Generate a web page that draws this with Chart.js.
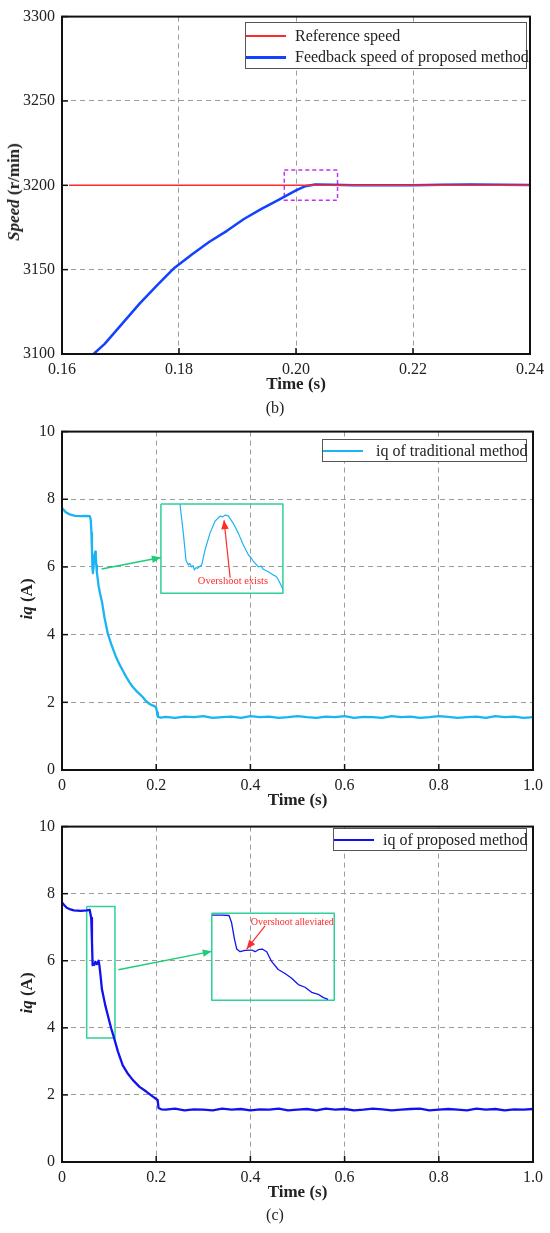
<!DOCTYPE html>
<html>
<head>
<meta charset="utf-8">
<script src="https://cdn.jsdelivr.net/npm/chart.js@4.4.1/dist/chart.umd.min.js"></script>
<style>
  body { margin: 0; background: #fff; width: 550px; height: 1233px; position: relative; overflow: hidden;
         font-family: 'Liberation Serif', 'Times New Roman', serif; color: #222; }
  canvas { position: absolute; left: 0; }
  .ytitle { position: absolute; transform: translate(-50%, -50%) rotate(-90deg); font-weight: bold;
            font-size: 17px; white-space: nowrap; line-height: 20px; }
  .legend { position: absolute; border: 1px solid #555; background: #fff; box-sizing: border-box; }
  .legend .swatch { position: absolute; left: 0; height: 2px; }
  .legend .label { position: absolute; font-size: 16px; line-height: 20px; white-space: nowrap; }
  .caption { position: absolute; left: 0; width: 550px; text-align: center; font-size: 16px; line-height: 19px; }
</style>
</head>
<body>
<canvas id="speedChart" width="550" height="400" style="top:0px"></canvas>
<canvas id="tradChart" width="550" height="401" style="top:415px"></canvas>
<canvas id="propChart" width="550" height="398" style="top:810px"></canvas>

<div class="ytitle" style="left:14px; top:192px"><i>Speed</i> (r/min)</div>
<div class="ytitle" style="left:27px; top:599px"><i>iq</i> (A)</div>
<div class="ytitle" style="left:27px; top:993px"><i>iq</i> (A)</div>
<div class="caption" style="top:398px">(b)</div>
<div class="caption" style="top:1205px">(c)</div>

<script>
// ---- tick values and labels ----
const speedXTicks = [0.16, 0.18, 0.20, 0.22, 0.24];
const speedXTickLabels = ['0.16', '0.18', '0.20', '0.22', '0.24'];
const speedYTicks = [3100, 3150, 3200, 3250, 3300];
const iqXTicks = [0, 0.2, 0.4, 0.6, 0.8, 1.0];
const iqXTickLabels = ['0', '0.2', '0.4', '0.6', '0.8', '1.0'];
const iqYTicks = [0, 2, 4, 6, 8, 10];

// ---- (b) speed ----
const refTime = [0.1612, 0.24];
const refSpeed = [3200, 3200];
const speedTime = [0.1654, 0.1673, 0.1703, 0.1733, 0.1762, 0.1792, 0.1822, 0.1852, 0.1882, 0.1911,
                   0.1941, 0.1971, 0.2000, 0.2015, 0.2033, 0.2060, 0.2100, 0.2150, 0.2200, 0.2250,
                   0.2300, 0.2350, 0.2400];
const speedValue = [3100, 3106, 3118, 3130, 3140.5, 3151, 3159, 3166.5, 3173, 3180,
                    3186, 3191.5, 3197, 3199.4, 3200.5, 3200.3, 3200.1, 3200, 3200.1, 3200.4,
                    3200.5, 3200.3, 3200.2];
const speedBoxX = [0.198, 0.2071, 0.2071, 0.198, 0.198];
const speedBoxY = [3209, 3209, 3191.2, 3191.2, 3209];

// ---- steady part shared time base ----
const steadyTime = [0.22, 0.24, 0.26, 0.28, 0.30, 0.32, 0.34, 0.36, 0.38, 0.40,
                    0.42, 0.44, 0.46, 0.48, 0.50, 0.52, 0.54, 0.56, 0.58, 0.60,
                    0.62, 0.64, 0.66, 0.68, 0.70, 0.72, 0.74, 0.76, 0.78, 0.80,
                    0.82, 0.84, 0.86, 0.88, 0.90, 0.92, 0.94, 0.96, 0.98, 1.00];

// ---- (traditional) iq ----
const tradStartTime = [0, 0.004, 0.008, 0.014, 0.02, 0.028, 0.04, 0.05, 0.059, 0.061,
                       0.0625, 0.0636, 0.0648, 0.0657, 0.067, 0.0685, 0.0705, 0.0718, 0.0728, 0.074,
                       0.0777, 0.081, 0.085, 0.0903, 0.0974, 0.1045, 0.115, 0.122, 0.129, 0.136,
                       0.1434, 0.15, 0.1575, 0.165, 0.1717, 0.178, 0.186, 0.192, 0.1965, 0.2,
                       0.202, 0.2035, 0.21];
const tradStartIq = [7.74, 7.68, 7.62, 7.57, 7.54, 7.51, 7.50, 7.51, 7.50, 7.40,
                     7.0, 6.5, 5.95, 5.82, 6.0, 6.3, 6.45, 6.3, 6.05, 5.85,
                     5.44, 5.2, 4.96, 4.5, 4.02, 3.72, 3.33, 3.12, 2.94, 2.76,
                     2.59, 2.46, 2.34, 2.24, 2.15, 2.04, 1.95, 1.91, 1.89, 1.83,
                     1.70, 1.57, 1.55];
const tradSteadyIq = [1.57, 1.54, 1.58, 1.56, 1.59, 1.54, 1.56, 1.58, 1.54, 1.59,
                      1.56, 1.58, 1.54, 1.56, 1.59, 1.56, 1.54, 1.58, 1.56, 1.59,
                      1.54, 1.57, 1.56, 1.54, 1.59, 1.56, 1.58, 1.54, 1.56, 1.59,
                      1.57, 1.54, 1.56, 1.58, 1.54, 1.59, 1.56, 1.58, 1.54, 1.56];
const tradInsetTime = [0.2505, 0.2576, 0.2633, 0.2682, 0.2715, 0.2753, 0.2785, 0.281, 0.2845, 0.288,
                       0.2925, 0.2966, 0.3036, 0.3142, 0.3248, 0.3355, 0.341, 0.346, 0.353, 0.3637,
                       0.3743, 0.385, 0.3956, 0.401, 0.406, 0.4168, 0.4225, 0.4274, 0.438, 0.4487,
                       0.455, 0.46, 0.469];
const tradInsetIq = [7.86, 7.0, 6.2, 6.06, 6.1, 6.0, 6.04, 5.91, 5.98, 5.96,
                     6.02, 6.06, 6.5, 7.0, 7.35, 7.5, 7.48, 7.53, 7.51, 7.29,
                     7.0, 6.65, 6.36, 6.28, 6.17, 6.0, 6.03, 5.93, 5.86, 5.76,
                     5.72, 5.6, 5.35];
const tradBoxX = [0.21, 0.469, 0.469, 0.21, 0.21];
const tradBoxY = [7.86, 7.86, 5.22, 5.22, 7.86];
const tradArrowX = [0.084, 0.21];
const tradArrowY = [5.94, 6.28];
const tradNoteArrowX = [0.357, 0.344];
const tradNoteArrowY = [5.68, 7.38];

// ---- (c) proposed iq ----
const propStartTime = [0, 0.004, 0.01, 0.018, 0.025, 0.04, 0.053, 0.0587, 0.062, 0.0636,
                       0.065, 0.0668, 0.0685, 0.0707, 0.074, 0.0777, 0.0795, 0.0813, 0.0848, 0.0919,
                       0.099, 0.1045, 0.111, 0.1186, 0.129, 0.14, 0.1505, 0.1646, 0.1788, 0.193,
                       0.2, 0.203, 0.205, 0.2106];
const propStartIq = [7.74, 7.67, 7.58, 7.53, 7.50, 7.49, 7.50, 7.52, 7.28, 6.6,
                     5.87, 5.92, 5.88, 5.97, 5.9, 6.0, 5.85, 5.63, 5.15, 4.67,
                     4.28, 3.98, 3.68, 3.30, 2.88, 2.63, 2.44, 2.24, 2.10, 1.95,
                     1.88, 1.85, 1.61, 1.57];
const propSteadyIq = [1.56, 1.59, 1.54, 1.57, 1.56, 1.54, 1.59, 1.56, 1.58, 1.54,
                      1.57, 1.56, 1.59, 1.54, 1.56, 1.58, 1.54, 1.59, 1.56, 1.58,
                      1.54, 1.56, 1.59, 1.57, 1.54, 1.56, 1.58, 1.59, 1.54, 1.56,
                      1.58, 1.56, 1.54, 1.59, 1.56, 1.58, 1.54, 1.57, 1.56, 1.58];
const propInsetTime = [0.319, 0.339, 0.3546, 0.360, 0.366, 0.371, 0.378, 0.3885, 0.403, 0.410,
                       0.417, 0.425, 0.4346, 0.445, 0.459, 0.4735, 0.4876, 0.5017, 0.516, 0.530,
                       0.544, 0.555, 0.565];
const propInsetIq = [7.36, 7.36, 7.35, 7.14, 6.66, 6.35, 6.27, 6.31, 6.32, 6.27,
                     6.33, 6.35, 6.27, 5.98, 5.74, 5.62, 5.48, 5.29, 5.21, 5.06,
                     5.0, 4.90, 4.85];
const propBoxX = [0.318, 0.578, 0.578, 0.318, 0.318];
const propBoxY = [7.42, 7.42, 4.82, 4.82, 7.42];
const propSelX = [0.0524, 0.1125, 0.1125, 0.0524, 0.0524];
const propSelY = [7.62, 7.62, 3.70, 3.70, 7.62];
const propArrowX = [0.1195, 0.318];
const propArrowY = [5.73, 6.28];
const propNoteArrowX = [0.431, 0.392];
const propNoteArrowY = [7.04, 6.35];

const FONT = "'Liberation Serif', 'Times New Roman', serif";
const GREEN_BOX = '#2fd09a';
const GREEN_ARROW = '#1fcc77';

function pts(xs, ys) {
    return xs.map((x, i) => ({ x: x, y: ys[i] }));
}

function line(label, xs, ys, color, width, extra) {
    return Object.assign({
        label: label,
        data: pts(xs, ys),
        borderColor: color,
        backgroundColor: color,
        borderWidth: width,
        pointRadius: 0,
        tension: 0,
        fill: false,
        borderJoinStyle: 'round'
    }, extra || {});
}

// frame, inward ticks, arrow heads and annotation text
const framePlugin = {
    id: 'frame',
    afterDatasetsDraw(chart, args, opts) {
        const ctx = chart.ctx;
        chart.data.datasets.forEach((ds, i) => {
            if (!ds.arrowHead) return;
            const pts = chart.getDatasetMeta(i).data;
            const a = pts[pts.length - 2], b = pts[pts.length - 1];
            const ang = Math.atan2(b.y - a.y, b.x - a.x);
            ctx.save();
            ctx.fillStyle = ds.borderColor;
            ctx.translate(b.x, b.y);
            ctx.rotate(ang);
            ctx.beginPath();
            ctx.moveTo(0, 0);
            ctx.lineTo(-9, -3.8);
            ctx.lineTo(-9, 3.8);
            ctx.closePath();
            ctx.fill();
            ctx.restore();
        });
        (opts.notes || []).forEach(n => {
            ctx.save();
            ctx.font = n.font;
            ctx.fillStyle = n.color;
            ctx.textAlign = 'center';
            ctx.textBaseline = 'middle';
            ctx.fillText(n.text, chart.scales.x.getPixelForValue(n.x), chart.scales.y.getPixelForValue(n.y));
            ctx.restore();
        });
    },
    afterDraw(chart) {
        const ctx = chart.ctx;
        const a = chart.chartArea;
        ctx.save();
        ctx.strokeStyle = '#111';
        ctx.lineWidth = 1.5;
        chart.scales.x.ticks.forEach(t => {
            const px = chart.scales.x.getPixelForValue(t.value);
            ctx.beginPath();
            ctx.moveTo(px, a.bottom);
            ctx.lineTo(px, a.bottom - 6);
            ctx.stroke();
        });
        chart.scales.y.ticks.forEach(t => {
            const py = chart.scales.y.getPixelForValue(t.value);
            ctx.beginPath();
            ctx.moveTo(a.left, py);
            ctx.lineTo(a.left + 6, py);
            ctx.stroke();
        });
        ctx.lineWidth = 2;
        ctx.strokeRect(a.left, a.top, a.right - a.left, a.bottom - a.top);
        ctx.restore();
    }
};

function makeChart(id, datasets, xTicks, xLabels, yTicks, topPad, notes) {
    const tickFont = { family: FONT, size: 16 };
    const gridOpts = { color: '#9c9c9c', lineWidth: 1, drawTicks: false };
    return new Chart(document.getElementById(id).getContext('2d'), {
        type: 'line',
        data: { datasets: datasets },
        options: {
            responsive: false,
            animation: false,
            layout: { padding: { top: topPad, right: 17, left: 0, bottom: 0 } },
            plugins: { legend: { display: false }, tooltip: { enabled: false }, frame: { notes: notes } },
            scales: {
                x: {
                    type: 'linear',
                    min: xTicks[0],
                    max: xTicks[xTicks.length - 1],
                    afterBuildTicks: ax => { ax.ticks = xTicks.map(v => ({ value: v })); },
                    afterFit: ax => { ax.height = 46; },
                    ticks: { callback: (v, i) => xLabels[i], padding: 6, font: tickFont, color: '#222',
                             maxRotation: 0, autoSkip: false },
                    grid: gridOpts,
                    border: { display: false, dash: [5, 4] },
                    title: { display: true, text: 'Time (s)', color: '#222',
                             font: { family: FONT, size: 17, weight: 'bold' }, padding: { top: 0, bottom: 5 } }
                },
                y: {
                    min: yTicks[0],
                    max: yTicks[yTicks.length - 1],
                    afterBuildTicks: ax => { ax.ticks = yTicks.map(v => ({ value: v })); },
                    afterFit: ax => { ax.width = 62; },
                    ticks: { callback: v => String(v), padding: 7, font: tickFont, color: '#222', autoSkip: false },
                    grid: gridOpts,
                    border: { display: false, dash: [5, 4] }
                }
            }
        },
        plugins: [framePlugin]
    });
}

// html legend boxes built from dataset label / colour
function makeLegend(items, box) {
    const el = document.createElement('div');
    el.className = 'legend';
    el.style.left = box.left + 'px';
    el.style.top = box.top + 'px';
    el.style.width = box.width + 'px';
    el.style.height = box.height + 'px';
    items.forEach((ds, i) => {
        const cy = box.rows[i];
        const h = Math.max(1, Math.round(ds.borderWidth));
        const sw = document.createElement('div');
        sw.className = 'swatch';
        sw.style.top = Math.round(cy - h / 2) + 'px';
        sw.style.height = h + 'px';
        sw.style.width = box.swatch + 'px';
        sw.style.background = ds.borderColor;
        el.appendChild(sw);
        const lb = document.createElement('div');
        lb.className = 'label';
        lb.style.left = box.text + 'px';
        lb.style.top = (cy - 10) + 'px';
        lb.textContent = ds.label;
        el.appendChild(lb);
    });
    document.body.appendChild(el);
}

// ---- chart (b) ----
const refSet = line('Reference speed', refTime, refSpeed, '#ff2b2b', 1.5);
const speedSet = line('Feedback speed of proposed method', speedTime, speedValue, '#1242ff', 2.5);
makeChart('speedChart', [
    refSet,
    speedSet,
    line('zoom', speedBoxX, speedBoxY, '#c431f2', 1.5, { borderDash: [4, 3] })
], speedXTicks, speedXTickLabels, speedYTicks, 14, []);
makeLegend([refSet, speedSet], { left: 245, top: 22, width: 282, height: 47, rows: [12.5, 34], swatch: 40, text: 49 });

// ---- chart traditional ----
const tradSet = line('iq of traditional method', tradStartTime.concat(steadyTime), tradStartIq.concat(tradSteadyIq), '#1ab4f5', 2.3);
makeChart('tradChart', [
    tradSet,
    line('inset', tradInsetTime, tradInsetIq, '#1ab4f5', 1.2),
    line('box', tradBoxX, tradBoxY, GREEN_BOX, 1.5),
    line('arrow', tradArrowX, tradArrowY, GREEN_ARROW, 1.5, { arrowHead: true }),
    line('note', tradNoteArrowX, tradNoteArrowY, '#ff2b2b', 1.2, { arrowHead: true })
], iqXTicks, iqXTickLabels, iqYTicks, 13,
    [{ text: 'Overshoot exists', x: 0.363, y: 5.58, color: '#ff2b2b', font: "10.5px " + FONT }]);
makeLegend([tradSet], { left: 322, top: 439, width: 205, height: 23, rows: [10.5], swatch: 40, text: 53 });

// ---- chart (c) ----
const propSet = line('iq of proposed method', propStartTime.concat(steadyTime), propStartIq.concat(propSteadyIq), '#1212f0', 2.3);
makeChart('propChart', [
    propSet,
    line('inset', propInsetTime, propInsetIq, '#1212f0', 1.3),
    line('box', propBoxX, propBoxY, GREEN_BOX, 1.5),
    line('sel', propSelX, propSelY, GREEN_BOX, 1.5),
    line('arrow', propArrowX, propArrowY, GREEN_ARROW, 1.5, { arrowHead: true }),
    line('note', propNoteArrowX, propNoteArrowY, '#ff2b2b', 1.2, { arrowHead: true })
], iqXTicks, iqXTickLabels, iqYTicks, 13,
    [{ text: 'Overshoot alleviated', x: 0.489, y: 7.14, color: '#ff2b2b', font: "10px " + FONT }]);
makeLegend([propSet], { left: 333, top: 828, width: 194, height: 23, rows: [10.5], swatch: 40, text: 49 });
</script>
</body>
</html>
